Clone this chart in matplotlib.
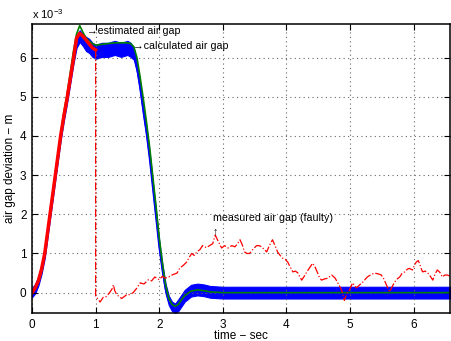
import matplotlib
matplotlib.use("Agg")
import matplotlib.pyplot as plt
import numpy as np

plt.rcParams['font.family'] = ['Liberation Sans', 'DejaVu Sans']
plt.rcParams['mathtext.fontset'] = 'custom'
plt.rcParams['mathtext.rm'] = 'Liberation Sans'

# air gap trajectory (units of 1e-3 m)
t_traj = [0, 0.05, 0.1, 0.15, 0.2, 0.25, 0.3, 0.35, 0.4, 0.45, 0.5, 0.55, 0.6,
          0.65, 0.7, 0.75, 0.8, 0.85, 0.9, 0.95, 1.0, 1.1, 1.2, 1.3, 1.4, 1.5,
          1.55, 1.6, 1.65, 1.7, 1.75, 1.8, 1.85, 1.9, 1.95, 2.0, 2.05, 2.1,
          2.15, 2.2, 2.25, 2.3, 2.35, 2.4, 2.5, 2.6, 2.7, 2.8, 3.0, 6.6]
gap_calc = [0.0, 0.1, 0.3, 0.6, 1.0, 1.6, 2.2, 2.8, 3.4, 4.0, 4.5, 4.95, 5.45,
            5.95, 6.4, 6.55, 6.45, 6.35, 6.3, 6.2, 6.15, 6.2, 6.2, 6.25, 6.2, 6.25,
            6.2, 6.1, 5.75, 5.25, 4.65, 4.1, 3.45, 2.7, 1.95, 1.2, 0.6, 0.1,
            -0.2, -0.35, -0.4, -0.32, -0.2, -0.08, 0.05, 0.08, 0.06, 0.02, 0.0, 0.0]
calc_spread = [0.12, 0.12, 0.12, 0.12, 0.12, 0.12, 0.12, 0.12, 0.12, 0.12, 0.12, 0.12, 0.12,
               0.12, 0.15, 0.15, 0.15, 0.18, 0.18, 0.18, 0.18, 0.18, 0.18, 0.18, 0.18, 0.18,
               0.18, 0.15, 0.12, 0.12, 0.12, 0.12, 0.12, 0.12, 0.12, 0.12, 0.12, 0.12,
               0.12, 0.12, 0.12, 0.15, 0.15, 0.15, 0.15, 0.15, 0.15, 0.15, 0.15, 0.15]
gap_est = [0.0, 0.1, 0.3, 0.6, 1.0, 1.6, 2.2, 2.85, 3.45, 4.05, 4.6, 5.05, 5.6,
           6.15, 6.6, 6.82, 6.65, 6.5, 6.42, 6.36, 6.32, 6.34, 6.36, 6.38, 6.38, 6.38,
           6.36, 6.28, 6.0, 5.5, 4.95, 4.35, 3.7, 2.95, 2.2, 1.4, 0.75, 0.2,
           -0.15, -0.3, -0.35, -0.3, -0.18, -0.08, 0.04, 0.07, 0.05, 0.02, 0.0, 0.0]

# measured air gap, healthy part
t_meas = [0, 0.05, 0.1, 0.15, 0.2, 0.25, 0.3, 0.35, 0.4, 0.45, 0.5, 0.55, 0.6,
          0.65, 0.7, 0.75, 0.8, 0.85, 0.9, 0.95, 1.0]
gap_meas = [0.0, 0.12, 0.3, 0.6, 1.0, 1.6, 2.2, 2.8, 3.4, 4.0, 4.5, 4.95, 5.45,
            5.95, 6.5, 6.62, 6.55, 6.45, 6.35, 6.25, 6.2]

# measured air gap after the sensor fault
t_fault = [1.0, 1.0, 1.03, 1.07, 1.12, 1.17, 1.22, 1.26, 1.28, 1.3, 1.33, 1.37, 1.41,
           1.45, 1.49, 1.54, 1.59, 1.65, 1.7, 1.76, 1.83, 1.88, 1.93, 2.0, 2.05,
           2.09, 2.15, 2.2, 2.28, 2.32, 2.38, 2.43, 2.47, 2.51, 2.55, 2.59, 2.64,
           2.68, 2.74, 2.79, 2.84, 2.88, 2.93, 2.98, 3.03, 3.08, 3.14, 3.19, 3.23,
           3.27, 3.31, 3.34, 3.38, 3.42, 3.47, 3.53, 3.57, 3.61, 3.65, 3.69, 3.73,
           3.78, 3.82, 3.86, 3.9, 3.94, 3.98, 4.02, 4.06, 4.1, 4.14, 4.18, 4.21,
           4.24, 4.28, 4.32, 4.37, 4.41, 4.45, 4.49, 4.52, 4.55, 4.6, 4.65, 4.71,
           4.76, 4.8, 4.85, 4.88, 4.91, 4.95, 4.99, 5.04, 5.07, 5.1, 5.15, 5.2,
           5.27, 5.32, 5.38, 5.44, 5.49, 5.53, 5.57, 5.62, 5.66, 5.7, 5.74, 5.78,
           5.82, 5.86, 5.9, 5.93, 5.98, 6.01, 6.04, 6.07, 6.09, 6.12, 6.14, 6.18,
           6.22, 6.26, 6.3, 6.33, 6.37, 6.41, 6.45, 6.49, 6.53, 6.57]
gap_fault = [6.2, -0.1, -0.15, -0.24, -0.12, -0.1, 0.0, 0.1, 0.2, 0.05, -0.05, -0.1, -0.15,
             -0.1, -0.05, -0.05, 0.0, 0.12, 0.25, 0.22, 0.33, 0.3, 0.4, 0.33, 0.42,
             0.37, 0.4, 0.45, 0.5, 0.62, 0.7, 0.78, 0.9, 1.0, 0.95, 1.04, 1.1,
             1.2, 1.15, 1.2, 1.25, 1.47, 1.3, 1.14, 1.2, 1.14, 1.2, 1.17, 1.25,
             1.35, 1.2, 1.04, 1.0, 1.0, 1.1, 1.2, 1.2, 1.17, 1.1, 1.04, 1.2,
             1.35, 1.2, 1.04, 0.95, 0.88, 0.85, 0.78, 0.65, 0.53, 0.55, 0.5, 0.4,
             0.32, 0.42, 0.53, 0.65, 0.75, 0.65, 0.5, 0.38, 0.32, 0.35, 0.37, 0.45,
             0.38, 0.27, 0.12, 0.0, -0.2, -0.02, 0.07, 0.25, 0.18, 0.12, 0.2, 0.27,
             0.4, 0.45, 0.5, 0.48, 0.45, 0.35, 0.2, 0.02, 0.15, 0.27, 0.35, 0.4,
             0.5, 0.53, 0.6, 0.62, 0.58, 0.7, 0.78, 0.82, 0.75, 0.6, 0.53, 0.55,
             0.5, 0.42, 0.32, 0.45, 0.58, 0.52, 0.4, 0.45, 0.45, 0.42]

fig = plt.figure(figsize=(4.51, 3.41), dpi=100)
ax = fig.add_axes([32 / 451, 1 - 313 / 341, 418 / 451, 289 / 341])

calc = np.array(gap_calc)
spread = np.array(calc_spread)
ax.fill_between(t_traj, calc - spread, calc + spread, color=(0, 0, 1), lw=0.8,
                edgecolor=(0, 0, 1))
ax.plot(t_traj, gap_calc, color=(0, 0, 1), lw=1.5)
ax.plot(t_traj, gap_est, color=(0, 0.5, 0), lw=1.2)
ax.plot(t_meas, gap_meas, color=(1, 0, 0), lw=2.5)
ax.plot(t_fault, gap_fault, color=(1, 0, 0), lw=0.9, ls='-.')

ax.text(0.86, 6.68, '\u2192estimated air gap', fontsize=7.7, va='center')
ax.text(1.59, 6.29, '\u2192calculated air gap', fontsize=7.7, va='center')
ax.text(2.84, 1.9, 'measured air gap (faulty)', fontsize=7.7, va='center')
ax.text(2.88, 1.57, '\u2191', fontsize=7.7, va='center', ha='center')

ax.set_xlim(0, 6.57)
ax.set_ylim(-0.52, 6.86)
ax.set_xticks(range(7))
ax.set_yticks(range(7))
ax.tick_params(direction='in', top=True, right=True, length=4, labelsize=8.5, pad=4)
ax.grid(True, ls=(0, (1, 3)), color='0.4', lw=0.8)
for s in ax.spines.values():
    s.set_linewidth(1.1)

ax.set_xlabel('time \u2212 sec', fontsize=8.5)
ax.xaxis.set_label_coords(0.5, -0.058)
ax.set_ylabel('air gap deviation \u2212 m', fontsize=8.5, labelpad=3)
fig.text(32 / 451, 1 - 14 / 341, 'x 10$^{-3}$', fontsize=8, va='center')

fig.savefig('out.png', dpi=100)
